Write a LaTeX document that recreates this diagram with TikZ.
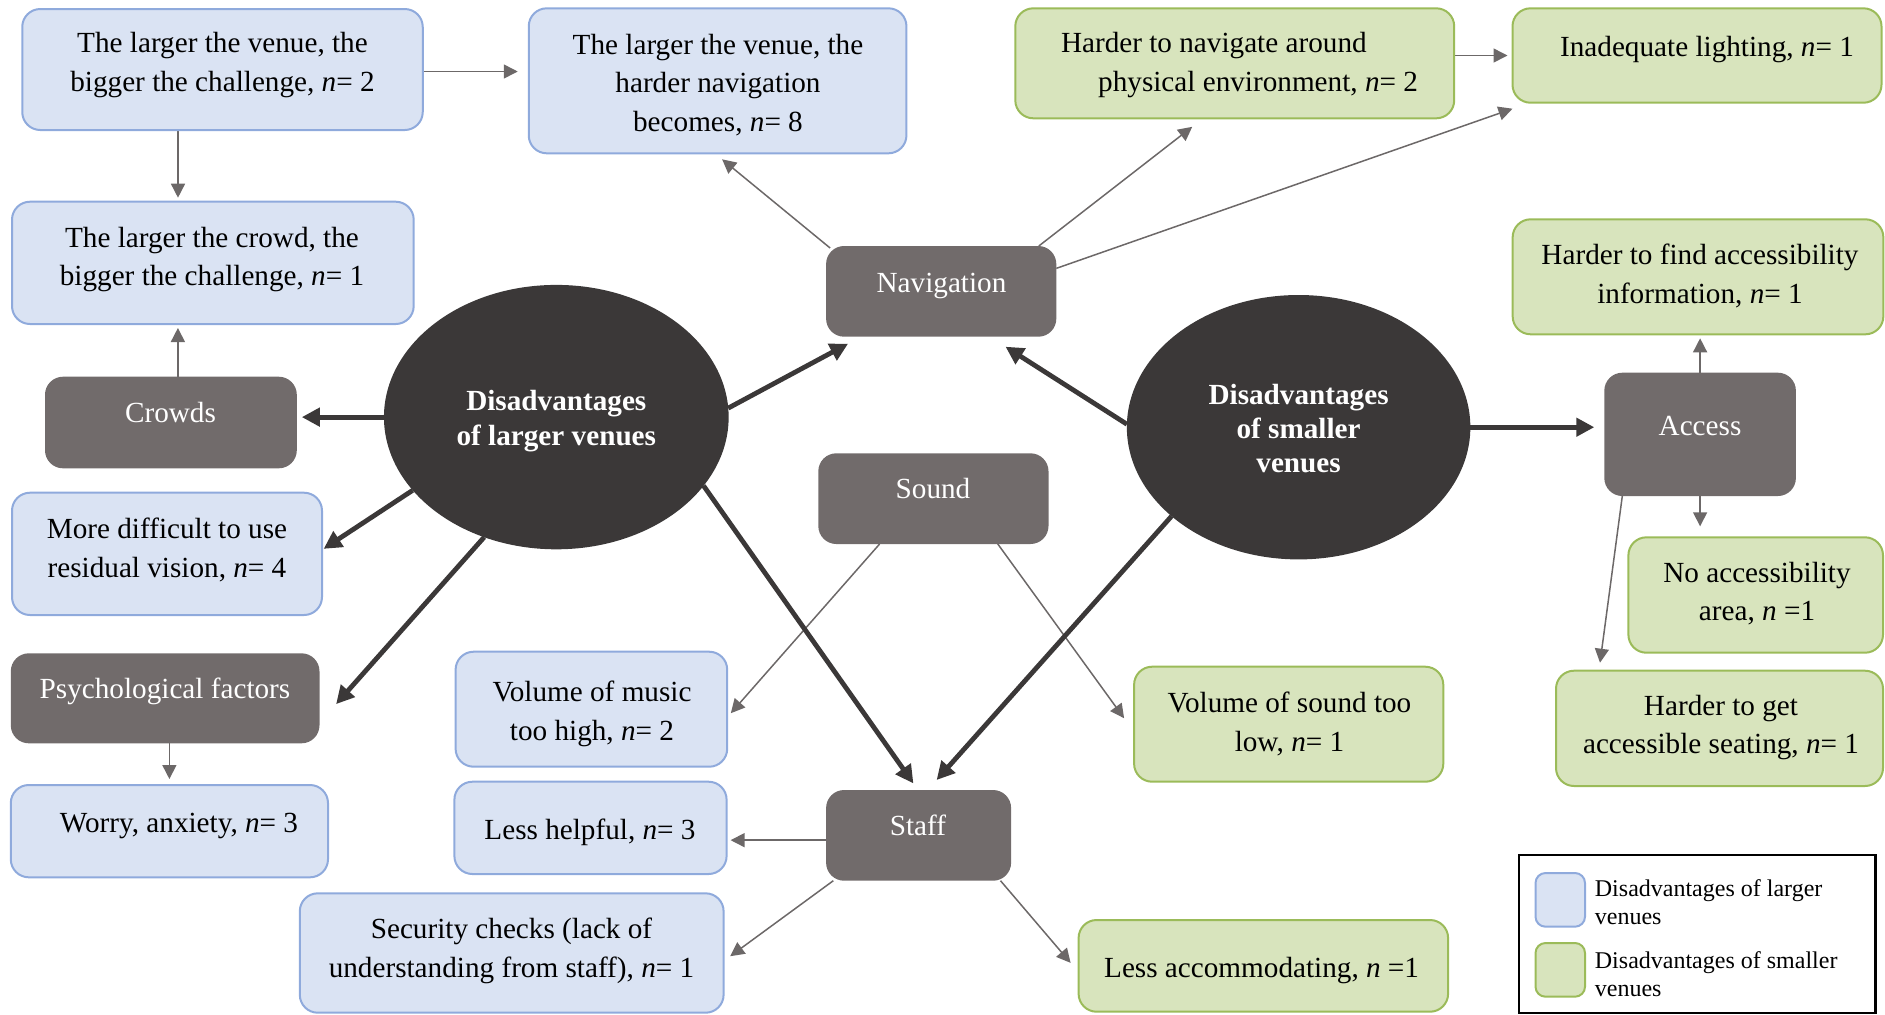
\documentclass[tikz,border=0pt]{standalone}
\usepackage{fontspec}
\setmainfont{Liberation Serif}
\usetikzlibrary{shapes.geometric,arrows.meta}
\pgfdeclarelayer{background}
\pgfsetlayers{background,main}
\definecolor{blueF}{RGB}{218,227,243}
\definecolor{blueB}{RGB}{143,170,220}
\definecolor{greenF}{RGB}{216,228,189}
\definecolor{greenB}{RGB}{155,187,89}
\definecolor{catG}{RGB}{113,107,107}
\definecolor{hubC}{RGB}{59,56,56}
\definecolor{connG}{RGB}{108,104,104}
\newcommand\mainfs{\fontsize{14.6pt}{19.4pt}\selectfont}
\newcommand\hubfs{\fontsize{14.6pt}{17.2pt}\selectfont\bfseries}
\newcommand\legfs{\fontsize{12pt}{14pt}\selectfont}
\newcommand\nvar{\textit{n}}
\tikzset{
  bbox/.style={draw=blueB, fill=blueF, line width=1pt, rounded corners=9pt, inner sep=0pt, outer sep=0pt},
  gbox/.style={draw=greenB, fill=greenF, line width=1pt, rounded corners=9pt, inner sep=0pt, outer sep=0pt},
  catbox/.style={fill=catG, rounded corners=9pt, inner sep=0pt, outer sep=0pt},
  txt/.style={font=\mainfs, align=center, inner sep=0pt, yshift=-1.3pt},
  cattxt/.style={font=\mainfs, inner sep=0pt, text=white, text height=0.68em, text depth=0.22em, yshift=-2.2pt},
  hub/.style={ellipse, fill=hubC, inner sep=0pt, outer sep=0pt},
  hubtxt/.style={text=white, font=\hubfs, align=center, inner sep=0pt},
  conn/.style={draw=connG, line width=0.75pt, -{Triangle[length=7pt,width=7pt]}},
  hubarrow/.style={draw=hubC, line width=2.4pt, -{Triangle[length=9pt,width=9pt]}},
  legtxt/.style={font=\legfs, align=left, inner sep=0pt, anchor=west}
}
\begin{document}
\begin{tikzpicture}[x=0.5pt,y=-0.5pt]
\useasboundingbox (0,0) rectangle (1885,1014);
% boxes
\node[bbox, minimum width=200.25pt, minimum height=60.5pt] (box1) at (222.5,69.5) {};
\node[bbox, minimum width=188.85pt, minimum height=72.5pt] (box2) at (717.6,80.8) {};
\node[gbox, minimum width=219.45pt, minimum height=55pt] (box3) at (1234.75,63.3) {};
\node[gbox, minimum width=184.5pt, minimum height=47.2pt] (box4) at (1697,55.5) {};
\node[bbox, minimum width=200.85pt, minimum height=61.15pt] (box5) at (212.85,262.85) {};
\node[catbox, minimum width=115.1pt, minimum height=45.35pt] (nav) at (941.2,291.35) {};
\node[gbox, minimum width=185.35pt, minimum height=57.5pt] (box6) at (1698,276.8) {};
\node[catbox, minimum width=125.9pt, minimum height=45.8pt] (crowds) at (170.9,422.5) {};
\node[bbox, minimum width=155pt, minimum height=61.15pt] (box7) at (167,553.85) {};
\node[catbox, minimum width=115.1pt, minimum height=45.35pt] (sound) at (933.4,498.65) {};
\node[catbox, minimum width=95.8pt, minimum height=61.65pt] (access) at (1700.1,434.35) {};
\node[gbox, minimum width=127.3pt, minimum height=57.7pt] (box8) at (1755.7,595) {};
\node[catbox, minimum width=154.35pt, minimum height=45pt] (psych) at (165.15,698.3) {};
\node[bbox, minimum width=135.8pt, minimum height=57.5pt] (box9) at (591.4,709.2) {};
\node[bbox, minimum width=158.6pt, minimum height=46.15pt] (worry) at (169.4,831.15) {};
\node[bbox, minimum width=136.1pt, minimum height=46.15pt] (box13) at (590.5,827.85) {};
\node[catbox, minimum width=92.5pt, minimum height=45.35pt] (staff) at (918.6,835.35) {};
\node[bbox, minimum width=211.9pt, minimum height=59.7pt] (box14) at (511.7,953) {};
\node[gbox, minimum width=154.6pt, minimum height=57.5pt] (box10) at (1288.7,724.2) {};
\node[gbox, minimum width=163.5pt, minimum height=57.65pt] (box11) at (1719.5,728.35) {};
\node[gbox, minimum width=184.75pt, minimum height=45.85pt] (box15) at (1263.35,965.85) {};
% hubs
\node[hub, minimum width=172.35pt, minimum height=132.2pt] (ellL) at (556.3,417.1) {};
\node[hub, minimum width=171.75pt, minimum height=132.2pt] (ellR) at (1298.6,427.2) {};
\node[hubtxt] (ellLt) at (556.3,421) {Disadvantages\\of larger venues};
\node[hubtxt] (ellRt) at (1298.6,428.5) {Disadvantages\\of smaller\\venues};
% texts
\node[txt] (t1) at (222.5,62.5) {The larger the venue, the\\bigger the challenge, \nvar= 2};
\node[txt] (t2) at (718,82.5) {The larger the venue, the\\harder navigation\\becomes, \nvar= 8};
\node[txt, align=left, anchor=west] (t3) at (1060.6,62.5) {Harder to navigate around\\\hspace*{18.6pt}physical environment, \nvar= 2};
\node[txt] (t4) at (1707,47) {Inadequate lighting, \nvar= 1};
\node[txt] (t5) at (212,257) {The larger the crowd, the\\bigger the challenge, \nvar= 1};
\node[cattxt] (tnav) at (941.5,283.5) {Navigation};
\node[txt] (t6) at (1700,273) {Harder to find accessibility\\information, \nvar= 1};
\node[cattxt] (tcrowds) at (170.5,413.5) {Crowds};
\node[cattxt] (taccess) at (1700,426) {Access};
\node[cattxt] (tsound) at (933,489) {Sound};
\node[txt] (t7) at (167,547.5) {More difficult to use\\residual vision, \nvar= 4};
\node[txt] (t8) at (1757,591) {No accessibility\\area, \nvar{} =1};
\node[cattxt] (tpsych) at (165,689.5) {Psychological factors};
\node[txt] (t9) at (592,711) {Volume of music\\too high, \nvar= 2};
\node[txt] (t10) at (1289.5,721) {Volume of sound too\\low, \nvar= 1};
\node[txt] (t11) at (1721,725) {Harder to get\\accessible seating, \nvar= 1};
\node[txt] (t12) at (179,823.5) {Worry, anxiety, \nvar= 3};
\node[txt] (t13) at (590,830) {Less helpful, \nvar= 3};
\node[cattxt] (tstaff) at (918,826) {Staff};
\node[txt] (t14) at (511.5,948) {Security checks (lack of\\understanding from staff), \nvar= 1};
\node[txt] (t15) at (1261.6,968.3) {Less accommodating, \nvar{} =1};
% legend
\node[draw=black, line width=1.2pt, minimum width=178.4pt, minimum height=79pt, inner sep=0pt] (legend) at (1697.1,934) {};
\node[bbox, rounded corners=5pt, minimum width=24.75pt, minimum height=26.85pt] (legB) at (1560.25,899.85) {};
\node[gbox, rounded corners=5pt, minimum width=24.75pt, minimum height=26.85pt] (legG) at (1560.25,969.85) {};
\node[legtxt] (legBt) at (1594.5,902.5) {Disadvantages of larger\\venues};
\node[legtxt] (legGt) at (1594.5,974.5) {Disadvantages of smaller\\venues};
% connectors
\begin{pgfonlayer}{background}
\draw[conn, shorten >=5.5pt] ([yshift=-1pt]box1.east) -- ([yshift=-1pt]box1.east -| box2.west);
\draw[conn, shorten >=2pt] ([xshift=-22.25pt]box1.south) -- ([xshift=-22.25pt]box1.south |- box5.north);
\draw[conn, shorten >=2pt] ([xshift=3.5pt]crowds.north) -- ([xshift=3.5pt]crowds.north |- box5.south);
\draw[conn] ([xshift=2pt,yshift=-1pt]nav.north west) -- ([xshift=2.25pt,yshift=-3pt]box2.south);
\draw[conn] ([xshift=-8.75pt]nav.north east) -- ([xshift=-21.25pt,yshift=-4.25pt]box3.south);
\draw[conn] ([yshift=11.5pt]nav.east) -- ([yshift=-3pt]box4.south west);
\draw[conn, shorten >=2.5pt] (box3.east |- box4.west) -- (box4.west);
\draw[conn, shorten >=2pt] (access.north) -- (access.north |- box6.south);
\draw[conn, shorten >=5.5pt] (access.south) -- (access.south |- box8.north);
\draw[conn] ([xshift=9pt]access.south west) -- ([xshift=22pt,yshift=4pt]box11.north west);
\draw[conn] ([xshift=30.65pt]sound.south west) -- ([xshift=1.8pt,yshift=-2pt]box9.east);
\draw[conn] ([xshift=-25.35pt]sound.south east) -- ([xshift=-5pt,yshift=3pt]box10.west);
\draw[conn, shorten >=3pt] (psych.south -| worry.north) -- (worry.north);
\draw[conn, shorten >=2pt] ([yshift=-2.4pt]staff.west) -- ([yshift=-2.4pt]staff.west -| box13.east);
\draw[conn] ([xshift=3.6pt]staff.south west) -- ([xshift=3.3pt,yshift=-1.6pt]box14.east);
\draw[conn] ([xshift=-5.3pt]staff.south east) -- ([xshift=-4pt,yshift=1.5pt]box15.west);
% thick
\draw[hubarrow, shorten >=2.5pt] (ellL.west) -- (ellL.west -| crowds.east);
\draw[hubarrow] (ellL.3) -- ([xshift=11pt,yshift=-3.5pt]nav.south west);
\draw[hubarrow] (ellL.207.5) -- ([xshift=0.8pt,yshift=2.5pt]box7.east);
\draw[hubarrow] (ellL.239.2) -- ([xshift=8.3pt,yshift=-2.9pt]psych.east);
\draw[hubarrow] (ellL.335.2) -- ([xshift=-2.6pt,yshift=3.3pt]staff.north);
\draw[hubarrow] (ellR.179) -- ([xshift=-25.4pt,yshift=-5pt]nav.south east);
\draw[hubarrow, shorten >=5pt] (ellR.east) -- (ellR.east -| access.west);
\draw[hubarrow] (ellR.215.4) -- ([xshift=9pt,yshift=5pt]staff.north);
\end{pgfonlayer}
\end{tikzpicture}
\end{document}
